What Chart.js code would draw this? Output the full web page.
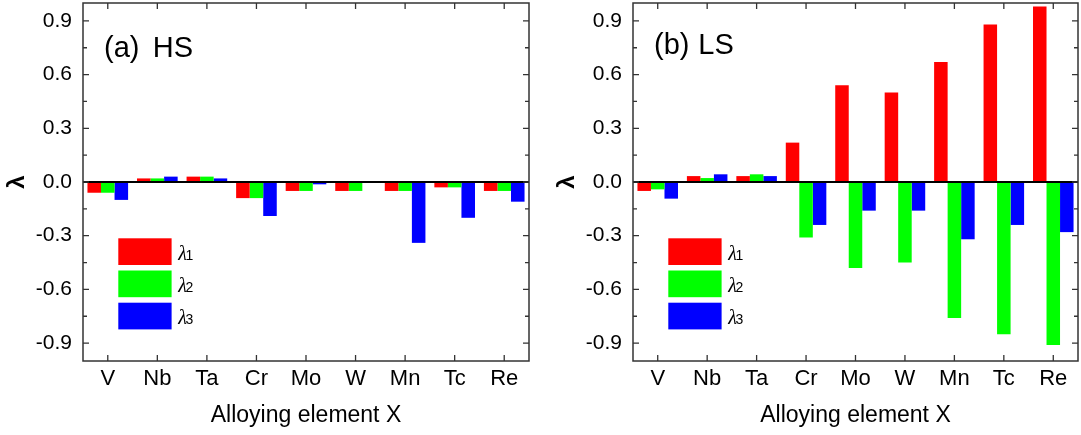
<!DOCTYPE html>
<html><head><meta charset="utf-8">
<script src="https://cdn.jsdelivr.net/npm/chart.js@4.4.0/dist/chart.umd.min.js"></script>
<style>
html,body{margin:0;padding:0;background:#fff;overflow:hidden;}
#wrap{position:relative;width:1081px;height:435px;}
canvas{position:absolute;top:0;}
</style></head><body>
<div id="wrap">
<canvas id="c1" width="540" height="435" style="left:0px;width:540px;height:435px"></canvas>
<canvas id="c2" width="531" height="435" style="left:550px;width:531px;height:435px"></canvas>
</div>
<script>
const categories = ['V','Nb','Ta','Cr','Mo','W','Mn','Tc','Re'];
const seriesNames = ['λ1','λ2','λ3'];
const seriesColors = ['#ff0000','#00ff00','#0000ff'];
const yTickValues = [-0.9,-0.6,-0.3,0,0.3,0.6,0.9];
const yMinorValues = [-0.75,-0.45,-0.15,0.15,0.45,0.75];
const xTitle = 'Alloying element X';
const yTitle = 'λ';
// (a) HS
const hsLambda1 = [-0.06,0.02,0.03,-0.09,-0.05,-0.05,-0.05,-0.03,-0.05];
const hsLambda2 = [-0.06,0.02,0.03,-0.09,-0.05,-0.05,-0.05,-0.03,-0.05];
const hsLambda3 = [-0.10,0.03,0.02,-0.19,-0.013,0.00,-0.34,-0.20,-0.11];
// (b) LS
const lsLambda1 = [-0.05,0.033,0.033,0.22,0.54,0.50,0.67,0.88,0.98];
const lsLambda2 = [-0.041,0.022,0.043,-0.31,-0.48,-0.45,-0.76,-0.85,-0.91];
const lsLambda3 = [-0.093,0.043,0.033,-0.24,-0.16,-0.16,-0.32,-0.24,-0.28];

const framePlugin = {
  id:'frame',
  afterDatasetsDraw(chart){
    const {ctx, chartArea:a, scales:{x,y}} = chart;
    ctx.save();
    const y0 = y.getPixelForValue(0);
    ctx.strokeStyle='#000'; ctx.lineWidth=2;
    ctx.beginPath(); ctx.moveTo(a.left,y0); ctx.lineTo(a.right,y0); ctx.stroke();
    ctx.strokeStyle='#333'; ctx.lineWidth=1.5;
    ctx.strokeRect(a.left,a.top,a.right-a.left,a.bottom-a.top);
    ctx.lineWidth=1.3;
    ctx.beginPath();
    yTickValues.forEach(v=>{const p=y.getPixelForValue(v);
      ctx.moveTo(a.left,p);ctx.lineTo(a.left+6,p);ctx.moveTo(a.right,p);ctx.lineTo(a.right-6,p);});
    yMinorValues.forEach(v=>{const p=y.getPixelForValue(v);
      ctx.moveTo(a.left,p);ctx.lineTo(a.left+4,p);ctx.moveTo(a.right,p);ctx.lineTo(a.right-4,p);});
    categories.forEach((c,i)=>{const p=x.getPixelForValue(i);
      ctx.moveTo(p,a.bottom);ctx.lineTo(p,a.bottom-6);ctx.moveTo(p,a.top);ctx.lineTo(p,a.top+6);});
    ctx.stroke();
    ctx.restore();
  },
  afterDraw(chart, args, opts){
    const {ctx, chartArea:a} = chart;
    ctx.save();
    ctx.fillStyle='#000';
    ctx.textBaseline='alphabetic';
    ctx.font='29px "Liberation Sans", Arial, sans-serif';
    ctx.fillText(opts.label[0], a.left+21, a.top+opts.labelBase);
    ctx.fillText(opts.label[1], a.left+opts.label2X, a.top+opts.labelBase);
    chart.data.datasets.forEach((ds,i)=>{
      const bx=a.left+35.3, by=a.top+235.3+i*32.2;
      ctx.fillStyle=ds.backgroundColor;
      ctx.fillRect(bx,by,53.3,26.7);
      ctx.fillStyle='#000';
      const base=by+13.35+8.3;
      ctx.font='italic 20px "Liberation Serif", serif';
      ctx.fillText(ds.label[0], a.left+95.3, base);
      const w=ctx.measureText(ds.label[0]).width;
      ctx.font='14px "Liberation Sans", Arial, sans-serif';
      ctx.fillText(ds.label.slice(1), a.left+95.3+w-1.5, base);
    });
    ctx.restore();
  }
};

function makeChart(id, series, label, labelBase, label2X){
  return new Chart(document.getElementById(id), {
    type:'bar',
    data:{
      labels:categories,
      datasets:series.map((d,i)=>({label:seriesNames[i],data:d,backgroundColor:seriesColors[i],
        borderWidth:0,categoryPercentage:0.82,barPercentage:1.0}))
    },
    options:{
      responsive:false, animation:false, devicePixelRatio:1,
      layout:{padding:{left:0,right:id==='c1'?11:3,top:3,bottom:0}},
      plugins:{legend:{display:false},tooltip:{enabled:false},
        frame:{label:label,labelBase:labelBase,label2X:label2X}},
      scales:{
        x:{
          grid:{display:false,drawTicks:false}, border:{display:false},
          ticks:{color:'#000',padding:5,font:{family:'"Liberation Sans", Arial, sans-serif',size:22}},
          title:{display:true,text:xTitle,color:'#000',padding:{top:0,bottom:6},
            font:{family:'"Liberation Sans", Arial, sans-serif',size:23}},
          afterFit(s){s.height=74;s.paddingLeft=0;s.paddingRight=0;}
        },
        y:{
          min:-1,max:1,
          grid:{display:false,drawTicks:false}, border:{display:false},
          afterBuildTicks(s){s.ticks=yTickValues.map(v=>({value:v}));},
          ticks:{color:'#000',padding:11,callback:v=>Number(v).toFixed(1),
            font:{family:'"Liberation Sans", Arial, sans-serif',size:21}},
          title:{display:true,text:yTitle,color:'#000',padding:{top:3,bottom:0},
            font:{family:'"Liberation Sans", Arial, sans-serif',size:24,weight:'bold'}},
          afterFit(s){s.width=83;s.paddingTop=0;s.paddingBottom=0;}
        }
      }
    },
    plugins:[framePlugin]
  });
}
makeChart('c1',[hsLambda1,hsLambda2,hsLambda3],['(a)','HS'],54,69.7);
makeChart('c2',[lsLambda1,lsLambda2,lsLambda3],['(b)','LS'],51,65.3);
</script>
</body></html>
